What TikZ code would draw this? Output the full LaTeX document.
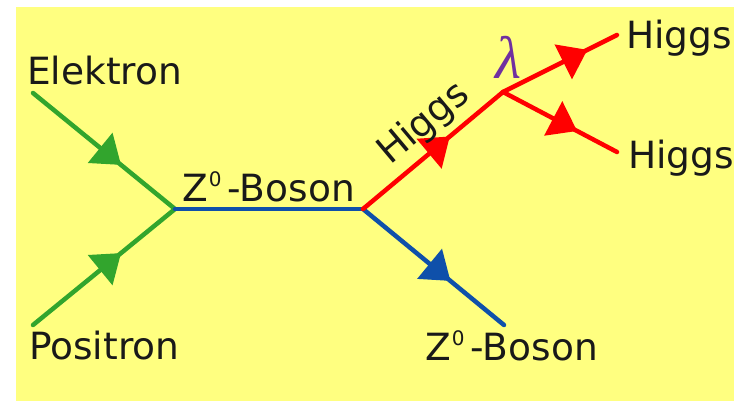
\documentclass[tikz,border=0pt]{standalone}
\usepackage{fontspec}
\setmainfont{DejaVu Sans}
\newfontfamily\lambdafont{Liberation Serif}
\usetikzlibrary{arrows.meta,decorations.markings}
\definecolor{bgyellow}{RGB}{255,255,128}
\definecolor{lepton}{RGB}{50,165,45}
\definecolor{boson}{RGB}{15,80,170}
\definecolor{coupling}{RGB}{112,48,160}
\newcommand{\zboson}{Z\hspace{1pt}\raisebox{15pt}{\fontsize{20}{20}\selectfont 0}\hspace{6pt}-Boson}

\begin{document}
\begin{tikzpicture}[
  x=1pt, y=-1pt,
  font=\fontsize{37.5}{40}\selectfont,
  lbl/.style={anchor=base west, inner sep=0pt, text=black!90},
  line/.style={line width=4.5pt, line cap=round},
  prop/.style 2 args={line, #1, postaction={decorate}, decoration={markings,
      mark=at position #2 with {\arrow[#1]{Triangle[length=27pt, width=38pt]}}}}]
  \useasboundingbox (0,0) rectangle (734,401);
  \fill[bgyellow] (16,7) rectangle (734,401);
  % vertices and free ends
  \coordinate (eminus) at (33,93);
  \coordinate (eplus)  at (33,325);
  \coordinate (vzee)   at (175,209);
  \coordinate (vzh)    at (363,209);
  \coordinate (vhhh)   at (503,92);
  \coordinate (hone)   at (617,35);
  \coordinate (htwo)   at (617,152);
  \coordinate (zout)   at (504,325);
  % propagators
  \draw[prop={lepton}{0.62}] (eminus) -- (vzee);
  \draw[prop={lepton}{0.62}] (eplus) -- (vzee);
  \draw[line, boson] (vzee) -- (vzh);
  \draw[prop={boson}{0.62}] (vzh) -- (zout);
  \draw[prop={red}{0.62}] (vzh) -- (vhhh);
  \draw[prop={red}{0.74}] (vhhh) -- (hone);
  \draw[prop={red}{0.65}] (vhhh) -- (htwo);
  % labels
  \node[lbl] (elektron) at (27,85)  {Elektron};
  \node[lbl] (positron) at (29,359) {Positron};
  \node[lbl] (zmid)     at (182,201) {\zboson};
  \node[lbl] (zlow)     at (425,360) {\zboson};
  \node[lbl] (higgsa)   at (626,49)  {Higgs};
  \node[lbl] (higgsb)   at (628,168) {Higgs};
  \node[lbl, rotate=40] (higgsc) at (390,166) {Higgs};
  \node[text=coupling, inner sep=0pt, font=\lambdafont\itshape\fontsize{60}{60}\selectfont] (lambda) at (508,57) {λ};
\end{tikzpicture}
\end{document}
